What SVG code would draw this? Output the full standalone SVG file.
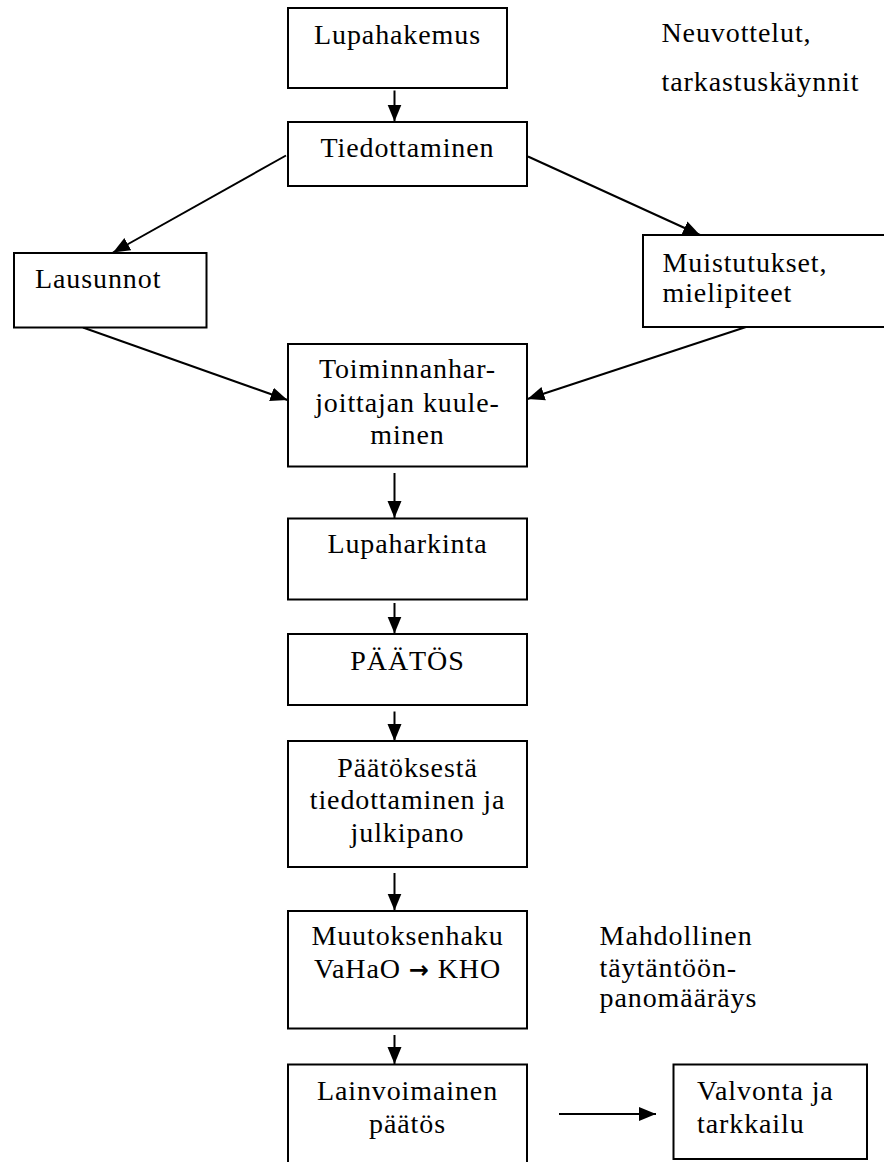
<svg xmlns="http://www.w3.org/2000/svg" width="884" height="1162" viewBox="0 0 884 1162">
<style>
  .box { fill: #ffffff; stroke: #000000; stroke-width: 2; }
  .t { font-family: "Liberation Serif", "Times New Roman", serif; font-size: 28px; letter-spacing: 0.9px; fill: #000000; }
  .c { text-anchor: middle; }
  .arr { font-family: "DejaVu Sans", sans-serif; font-weight: bold; font-size: 24px; }
  .conn line { stroke: #000000; stroke-width: 2; fill: none; marker-end: url(#ah); }
</style>
<defs>
  <marker id="ah" markerUnits="userSpaceOnUse" markerWidth="18" markerHeight="16" refX="17" refY="8" orient="auto">
    <path d="M0,1 L17,8 L0,15 Z" fill="#000000"/>
  </marker>
</defs>
<rect x="0" y="0" width="884" height="1162" fill="#ffffff"/>

<g id="connectors" class="conn">
  <line x1="394.5" y1="90.5" x2="394.5" y2="121.5"/>
  <line x1="286" y1="155.5" x2="113" y2="252.5"/>
  <line x1="528" y1="156.5" x2="700" y2="235"/>
  <line x1="83" y1="327.5" x2="287.5" y2="400"/>
  <line x1="746" y1="327" x2="527.5" y2="399"/>
  <line x1="394.5" y1="473" x2="394.5" y2="518"/>
  <line x1="394.5" y1="603" x2="394.5" y2="633.5"/>
  <line x1="394.5" y1="711.5" x2="394.5" y2="741"/>
  <line x1="394.5" y1="873" x2="394.5" y2="910.5"/>
  <line x1="394.5" y1="1035" x2="394.5" y2="1064"/>
  <line x1="559" y1="1114" x2="656" y2="1114"/>
</g>

<g id="n-lupahakemus">
  <rect class="box" x="288" y="8" width="219" height="80"/>
  <text class="t c" x="397.5" y="43.5">Lupahakemus</text>
</g>
<g id="n-neuvottelut">
  <text class="t" x="661.5" y="42">Neuvottelut,</text>
  <text class="t" x="661.5" y="90.5">tarkastuskäynnit</text>
</g>
<g id="n-tiedottaminen">
  <rect class="box" x="288" y="122" width="239" height="64"/>
  <text class="t c" x="407.5" y="156.5">Tiedottaminen</text>
</g>
<g id="n-lausunnot">
  <rect class="box" x="14" y="253" width="192.5" height="74.5"/>
  <text class="t" x="35" y="288.3">Lausunnot</text>
</g>
<g id="n-muistutukset">
  <rect class="box" x="643" y="235" width="260" height="92"/>
  <text class="t" x="662.5" y="271.7">Muistutukset,</text>
  <text class="t" x="662.5" y="301.7">mielipiteet</text>
</g>
<g id="n-kuuleminen">
  <rect class="box" x="288" y="344" width="239" height="122.5"/>
  <text class="t c" x="407.5" y="378">Toiminnanhar-</text>
  <text class="t c" x="407.5" y="411.5">joittajan kuule-</text>
  <text class="t c" x="407.5" y="443.5">minen</text>
</g>
<g id="n-lupaharkinta">
  <rect class="box" x="288" y="518.5" width="239" height="81"/>
  <text class="t c" x="407.5" y="552.7">Lupaharkinta</text>
</g>
<g id="n-paatos">
  <rect class="box" x="288" y="634" width="239" height="71"/>
  <text class="t c" x="407.5" y="670">PÄÄTÖS</text>
</g>
<g id="n-tiedottaminen-julkipano">
  <rect class="box" x="288" y="741" width="239" height="126"/>
  <text class="t c" x="407.5" y="776.7">Päätöksestä</text>
  <text class="t c" x="407.5" y="809.3">tiedottaminen ja</text>
  <text class="t c" x="407.5" y="841.7">julkipano</text>
</g>
<g id="n-muutoksenhaku">
  <rect class="box" x="288" y="911" width="239" height="117.5"/>
  <text class="t c" x="407.5" y="945">Muutoksenhaku</text>
  <text class="t c" x="407.5" y="978.3">VaHaO <tspan class="arr">→</tspan> KHO</text>
</g>
<g id="n-taytantoonpano">
  <text class="t" x="599.6" y="945">Mahdollinen</text>
  <text class="t" x="599.6" y="976.5">täytäntöön-</text>
  <text class="t" x="599.6" y="1007">panomääräys</text>
</g>
<g id="n-lainvoimainen">
  <rect class="box" x="288" y="1064.5" width="239" height="110"/>
  <text class="t c" x="407.5" y="1100">Lainvoimainen</text>
  <text class="t c" x="407.5" y="1133.3">päätös</text>
</g>
<g id="n-valvonta">
  <rect class="box" x="673.5" y="1064.5" width="193.5" height="94.5"/>
  <text class="t" x="697" y="1100">Valvonta ja</text>
  <text class="t" x="697" y="1133.3">tarkkailu</text>
</g>
</svg>
